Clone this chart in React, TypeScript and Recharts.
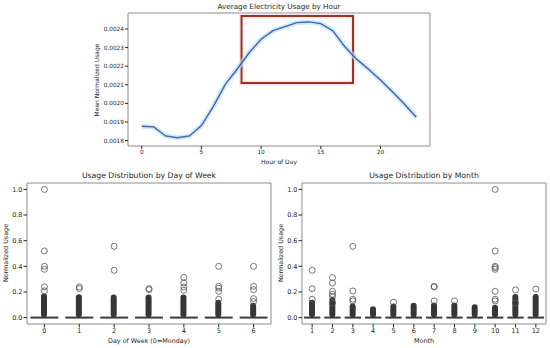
import React from "react";
import {
  ComposedChart,
  Line,
  Bar,
  Scatter,
  XAxis,
  YAxis,
  ReferenceArea,
  ReferenceLine,
} from "recharts";

const hours = [0, 1, 2, 3, 4, 5, 6, 7, 8, 9, 10, 11, 12, 13, 14, 15, 16, 17, 18, 19, 20, 21, 22, 23];
const meanUsage = [
  0.001877, 0.001874, 0.001825, 0.001815, 0.001825, 0.001881, 0.001984, 0.002102,
  0.002185, 0.002272, 0.002345, 0.002391, 0.002413, 0.002434, 0.002438, 0.002429,
  0.002391, 0.002306, 0.002238, 0.002184, 0.002126, 0.002063, 0.001997, 0.001926,
];
const hourTicks = [0, 5, 10, 15, 20];
const usageTicks = [0.0018, 0.0019, 0.002, 0.0021, 0.0022, 0.0023, 0.0024];
// highlighted region (hours / usage)
const highlightHours = [8.36, 17.7];
const highlightUsage = [0.00211, 0.00247];

const days = [0, 1, 2, 3, 4, 5, 6];
const dayDenseTop = [0.187, 0.182, 0.18, 0.18, 0.18, 0.14, 0.115];
const dayOutliers = [
  [1.0, 0.52, 0.4, 0.377, 0.24, 0.208],
  [0.239, 0.226],
  [0.556, 0.369],
  [0.226, 0.218],
  [0.314, 0.27, 0.239, 0.213],
  [0.4, 0.244, 0.229, 0.205, 0.143],
  [0.4, 0.244, 0.218, 0.148, 0.125],
];

const months = [1, 2, 3, 4, 5, 6, 7, 8, 9, 10, 11, 12];
const monthDenseTop = [0.14, 0.16, 0.11, 0.088, 0.109, 0.115, 0.117, 0.117, 0.104, 0.1, 0.184, 0.184];
const monthOutliers = [
  [0.369, 0.226, 0.143],
  [0.312, 0.27, 0.205, 0.182, 0.165, 0.114],
  [0.556, 0.208, 0.143, 0.13],
  [],
  [0.12],
  [],
  [0.243, 0.239, 0.13],
  [0.13],
  [],
  [1.0, 0.52, 0.4, 0.39, 0.377, 0.205, 0.143, 0.13],
  [0.216, 0.114],
  [0.223],
];
const usageDistTicks = [0, 0.2, 0.4, 0.6, 0.8, 1.0];

const FONT = "DejaVu Sans, sans-serif";
const TEXT = "#262626";
const SPINE = "#8c8c8c";

const hourData = hours.map((h, i) => ({ hour: h, usage: meanUsage[i] }));

function Caption({ x, y, size, children, rotate }: any) {
  return (
    <div
      style={{
        position: "absolute",
        left: x,
        top: y,
        transform: `translate(-50%, -50%)${rotate ? " rotate(-90deg)" : ""}`,
        fontFamily: FONT,
        fontSize: size,
        color: TEXT,
        whiteSpace: "nowrap",
        lineHeight: 1,
      }}
    >
      {children}
    </div>
  );
}

const outlierDot = (props: any) => (
  <circle cx={props.cx} cy={props.cy} r={3} fill="none" stroke="#555" strokeWidth={0.8} />
);

function DistChart({
  cats,
  denseTop,
  outliers,
  domain,
  colWidth,
}: {
  cats: number[];
  denseTop: number[];
  outliers: number[][];
  domain: [number, number];
  colWidth: number;
}) {
  const colData = cats.map((c, i) => ({ x: c, col: [0, denseTop[i]] }));
  const pts = cats.flatMap((c, i) => outliers[i].map((v) => ({ x: c, y: v })));
  return (
    <ComposedChart
      width={275}
      height={183}
      data={colData}
      margin={{ top: 18, right: 4, left: 7, bottom: 10 }}
    >
      <XAxis
        dataKey="x"
        type="number"
        domain={domain}
        ticks={cats}
        interval={0}
        height={14}
        axisLine={false}
        tickSize={3.5}
        tickMargin={1}
        tickLine={{ stroke: TEXT }}
        tick={{ fontSize: 6.5, fill: TEXT, fontFamily: FONT }}
      />
      <YAxis
        type="number"
        domain={[-0.05, 1.05]}
        ticks={usageDistTicks}
        width={20}
        axisLine={false}
        tickSize={3.5}
        tickMargin={1}
        tickLine={{ stroke: TEXT }}
        tickFormatter={(v: number) => v.toFixed(1)}
        tick={{ fontSize: 6.5, fill: TEXT, fontFamily: FONT }}
      />
      <ReferenceArea
        x1={domain[0]}
        x2={domain[1]}
        y1={-0.05}
        y2={1.05}
        fill="none"
        stroke={SPINE}
        strokeWidth={1}
      />
      <Bar dataKey="col" barSize={colWidth} fill="#363636" radius={3} isAnimationActive={false} />
      {cats.map((c) => (
        <ReferenceLine
          key={c}
          segment={[
            { x: c - 0.4, y: 0 },
            { x: c + 0.4, y: 0 },
          ]}
          stroke="#3a3a3a"
          strokeWidth={2}
        />
      ))}
      <Scatter data={pts} dataKey="y" shape={outlierDot} isAnimationActive={false} />
    </ComposedChart>
  );
}

export default function App() {
  return (
    <div style={{ position: "absolute", left: 0, top: 0, width: 550, height: 348, background: "#fff" }}>
      <div style={{ position: "absolute", left: 0, top: 0 }}>
        <ComposedChart
          width={550}
          height={170}
          data={hourData}
          margin={{ top: 13, right: 120, left: 88, bottom: 10 }}
        >
          <XAxis
            dataKey="hour"
            type="number"
            domain={[-1.15, 24.15]}
            ticks={hourTicks}
            height={14}
            axisLine={false}
            tickSize={3}
            tickMargin={1}
            tickLine={{ stroke: TEXT }}
            tick={{ fontSize: 5.8, fill: TEXT, fontFamily: FONT }}
          />
          <YAxis
            type="number"
            domain={[0.001771, 0.002486]}
            ticks={usageTicks}
            width={40}
            axisLine={false}
            tickSize={3}
            tickMargin={1}
            tickLine={{ stroke: TEXT }}
            tickFormatter={(v: number) => v.toFixed(4)}
            tick={{ fontSize: 5.8, fill: TEXT, fontFamily: FONT }}
          />
          <ReferenceArea
            x1={-1.15}
            x2={24.15}
            y1={0.001771}
            y2={0.002486}
            fill="none"
            stroke={SPINE}
            strokeWidth={1}
          />
          <Line
            dataKey="usage"
            stroke="#b5e6f7"
            strokeOpacity={0.7}
            strokeWidth={5}
            dot={false}
            isAnimationActive={false}
          />
          <Line
            dataKey="usage"
            stroke="#4d5db2"
            strokeWidth={1.4}
            dot={false}
            isAnimationActive={false}
          />
          <ReferenceArea
            x1={highlightHours[0]}
            x2={highlightHours[1]}
            y1={highlightUsage[0]}
            y2={highlightUsage[1]}
            fill="none"
            stroke="#fbd3e6"
            strokeWidth={5}
            strokeOpacity={0.6}
          />
          <ReferenceArea
            x1={highlightHours[0]}
            x2={highlightHours[1]}
            y1={highlightUsage[0]}
            y2={highlightUsage[1]}
            fill="none"
            stroke="#9a3520"
            strokeWidth={2}
          />
        </ComposedChart>
      </div>
      <Caption x={279} y={6.5} size={7.2}>Average Electricity Usage by Hour</Caption>
      <Caption x={279} y={162} size={6}>Hour of Day</Caption>
      <Caption x={97} y={80} size={6} rotate>Mean Normalized Usage</Caption>

      <div style={{ position: "absolute", left: 0, top: 165 }}>
        <DistChart cats={days} denseTop={dayDenseTop} outliers={dayOutliers} domain={[-0.5, 6.5]} colWidth={6} />
      </div>
      <div style={{ position: "absolute", left: 275, top: 165 }}>
        <DistChart cats={months} denseTop={monthDenseTop} outliers={monthOutliers} domain={[0.5, 12.5]} colWidth={6} />
      </div>
      <Caption x={149} y={176} size={7.7}>Usage Distribution by Day of Week</Caption>
      <Caption x={149} y={341} size={6.4}>Day of Week (0=Monday)</Caption>
      <Caption x={6} y={253} size={6.4} rotate>Normalized Usage</Caption>
      <Caption x={424} y={176} size={7.7}>Usage Distribution by Month</Caption>
      <Caption x={424} y={341} size={6.4}>Month</Caption>
      <Caption x={281} y={253} size={6.4} rotate>Normalized Usage</Caption>
    </div>
  );
}
